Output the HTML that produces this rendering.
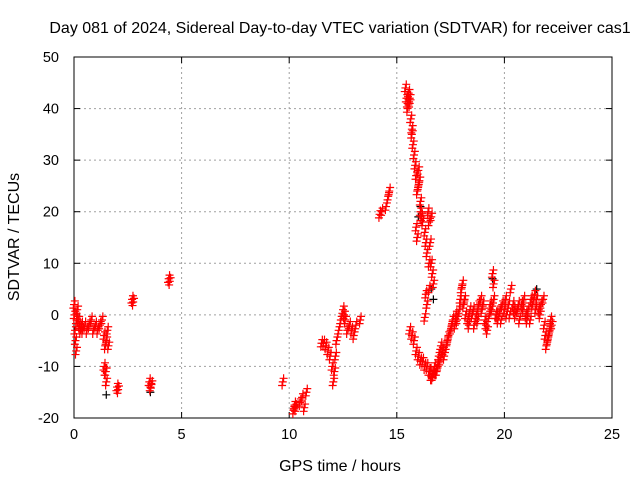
<!DOCTYPE html>
<html><head><meta charset="utf-8"><style>
body{margin:0;background:#fff}
svg{display:block;font-family:"Liberation Sans",sans-serif}
</style></head><body>
<svg id="c" width="640" height="480"></svg>
<script>
const xTicks=[0,5,10,15,20,25];
const yTicks=[-20,-10,0,10,20,30,40,50];
const blackHours=[1.5,3.55,16.6,16.1,16.0,21.5,16.7,19.45];
const blackValues=[-15.5,-15,5,21,19,5,3,7];
const redHours=[0.0,0.02,0.05,0.07,0.1,0.12,0.15,0.2,0.25,0.3,0.35,0.4,0.5,0.6,0.7,0.8,0.9,1.0,1.1,1.2,1.3,1.4,1.45,1.5,1.55,1.6,1.4,1.45,1.5,1.48,
2.0,2.05,2.7,2.75,3.5,3.55,3.6,4.4,4.45,
9.7,10.2,10.25,10.3,10.5,10.6,10.7,10.8,
11.5,11.6,11.7,11.8,11.9,12.0,12.05,12.1,12.15,12.2,12.3,12.4,12.5,12.55,12.6,12.7,12.8,12.9,13.0,13.1,13.3,
14.2,14.3,14.5,14.6,14.65,
15.4,15.45,15.5,15.55,15.6,15.65,15.7,15.75,15.8,15.85,15.9,16.0,16.05,15.95,16.1,16.15,15.9,15.95,16.2,16.3,16.35,16.4,16.45,16.5,16.55,16.6,16.65,16.7,16.5,16.3,16.4,16.35,15.5,15.6,15.7,16.0,16.1,16.5,16.6,
15.6,15.7,15.8,15.9,16.0,16.1,16.2,16.3,16.4,16.5,16.6,16.7,16.8,16.9,17.0,17.05,17.1,17.2,17.3,17.4,17.5,17.6,17.7,17.8,17.9,17.95,18.0,18.05,18.1,18.2,18.3,18.4,18.5,18.6,18.7,18.8,18.9,19.0,19.1,19.2,19.3,19.4,19.45,19.5,19.5,19.6,19.7,19.8,19.9,20.0,20.1,20.2,20.3,20.4,20.5,20.6,20.7,20.8,20.9,21.0,21.1,21.2,21.3,21.4,21.5,21.6,21.7,21.8,21.85,21.9,22.0,22.1,22.15,22.2,
16.55,16.65,16.75,16.85,16.95,17.15,17.35,17.55,17.75,18.15,18.35,18.55,18.75,18.95,19.15,19.35,19.65,19.85,20.05,20.25,20.45,20.65,20.85,21.05,21.25,21.45,21.65,21.95,22.05];
const redValues=[2,0,-3,-5,-7,-1,1,-1,-2,-3,-2,-3,-2,-3,-2,-1,-3,-2,-3,-2,-1,-4,-6,-5,-3,-6,-10,-11,-13,-11,
-14,-14.5,3,2.5,-13,-14,-13.5,7,6.5,
-13,-18.5,-17.5,-18,-17,-16,-18,-15,
-5.5,-5.5,-6,-7,-8,-10,-13,-11,-8,-5,-3,-1,1,0,-1,-3,-2,-3,-4,-2,-1,
19.5,20,21,23,24,
44,42,40,43,41,38,36,33,31,29,27,28,26,24,22,19,17,15,18,16,14,12,20,18,14,10,8,6,5,-0.5,2,4,41,42,35,25,20,10,19,
-3,-4,-5,-7,-8,-9,-9,-10,-10,-11,-12,-11.5,-11,-10,-9,-6,-7,-8,-6,-4,-3,-1,-2,-1,1,3,5,6,2,0,-1,1,0,-2,0,2,3,2,-1,-3,0,1,8,6,3,0,-1,1,2,1,0,2,5,2,0,1,-1,2,3,0,1,-1,2,4,3,1,2,3,-2,-4,-5,-3,-1,-2,
-11,-12,-10,-11,-8,-7,-5,-2,0,3,-2,1,-1,1,-2,2,0,-1,3,0,1,2,1,-1,3,1,0,-6,-4];
const X0=74,X1=612,Y0=418,Y1=57;
const sx=h=>X0+(h-0)/25*(X1-X0);
const sy=v=>Y0-(v+20)/70*(Y0-Y1);
const svg=document.getElementById('c');
const NS='http://www.w3.org/2000/svg';
function mk(tag,attrs){const e=document.createElementNS(NS,tag);for(const k in attrs)e.setAttribute(k,attrs[k]);svg.appendChild(e);return e;}
xTicks.forEach(t=>{const x=sx(t);
 if(t>0&&t<25){const g=mk('line',{x1:x,x2:x,y1:Y1,y2:Y0,stroke:'#a0a0a0','stroke-dasharray':'2,3'});
 }
 mk('line',{x1:x,x2:x,y1:Y0,y2:Y0-6,stroke:'#000'});mk('line',{x1:x,x2:x,y1:Y1,y2:Y1+6,stroke:'#000'});
 const l=mk('text',{x:x,y:Y0+21,'text-anchor':'middle','font-size':14.5});l.textContent=t;
 });
yTicks.forEach(t=>{const y=sy(t);
 if(t>-20&&t<50){const g=mk('line',{x1:X0,x2:X1,y1:y,y2:y,stroke:'#a0a0a0','stroke-dasharray':'2,3'});
 }
 mk('line',{x1:X0,x2:X0+6,y1:y,y2:y,stroke:'#000'});mk('line',{x1:X1,x2:X1-6,y1:y,y2:y,stroke:'#000'});
 const l=mk('text',{x:X0-15,y:y+5,'text-anchor':'end','font-size':14.5});l.textContent=t;
 });
const fr=mk('rect',{x:X0,y:Y1,width:X1-X0,height:Y0-Y1,fill:'none',stroke:'#000'});

function plus(h,v,col,name){const x=sx(h),y=sy(v);
 const p=mk('path',{d:`M${x-4} ${y}H${x+4}M${x} ${y-4}V${y+4}`,stroke:col,'stroke-width':1.2,fill:'none'});
 }
blackHours.forEach((h,i)=>plus(h,blackValues[i],'#000','black-point'));
redHours.forEach((h,i)=>{plus(h,redValues[i],'#f00','red-point');plus(h+0.04,redValues[i]+0.7,'#f00','red-point');plus(h-0.03,redValues[i]-0.7,'#f00','red-point');});
const t=mk('text',{x:340,y:33,'text-anchor':'middle','font-size':16});t.textContent='Day 081 of 2024, Sidereal Day-to-day VTEC variation (SDTVAR) for receiver cas1';

const xl=mk('text',{x:340,y:471,'text-anchor':'middle','font-size':16});xl.textContent='GPS time / hours';

const yl=mk('text',{x:19,y:237,'text-anchor':'middle','font-size':16,transform:'rotate(-90 19 237)'});yl.textContent='SDTVAR / TECUs';

</script>
</body></html>
